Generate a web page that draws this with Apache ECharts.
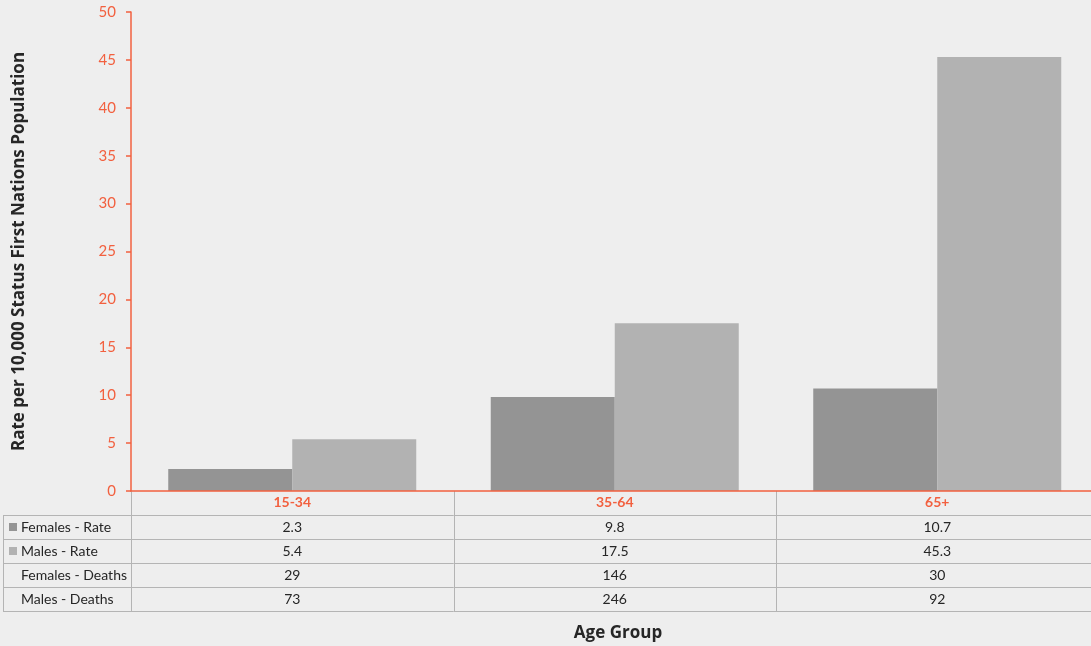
<!DOCTYPE html>
<html>
<head>
<meta charset="utf-8">
<title>Rate per 10,000 Status First Nations Population by Age Group</title>
<script src="https://cdn.jsdelivr.net/npm/echarts@6/dist/echarts.min.js"></script>
<style>
  html, body { margin: 0; padding: 0; background: #eeeeee; }
  #chart { width: 1091px; height: 646px; }
</style>
</head>
<body>
<div id="chart"></div>
<script>
// Age groups and values
const ageGroups = ['15-34', '35-64', '65+'];
const femalesRate = [2.3, 9.8, 10.7];
const malesRate = [5.4, 17.5, 45.3];
const femalesDeaths = [29, 146, 30];
const malesDeaths = [73, 246, 92];
const rowNames = ['Females - Rate', 'Males - Rate', 'Females - Deaths', 'Males - Deaths'];
const yTicks = { min: 0, max: 50, interval: 5 };

const FEMALE = '#949494';
const MALE = '#b2b2b2';
const ACCENT = '#f2603f';
const GRID_LINE = '#b4b4b4';
const FONT = 'Lato, "Open Sans", sans-serif';
const TITLE_FONT = '"Open Sans", Lato, sans-serif';
const LABEL_COL = 128;   // width of the row-name column left of the table
const PLOT_LEFT = 131;
const PLOT_WIDTH = 967.5; // the last column runs a little past the right edge

// table rows: header row (category names) followed by the four data rows
const tableRows = ['header'].concat(rowNames);
const rowValues = [femalesRate, malesRate, femalesDeaths, malesDeaths];
const swatch = [FEMALE, MALE, null, null];

// cells: [categoryIndex, rowIndex]; categoryIndex -1 marks the row-name column
const cells = [];
for (let r = 0; r < tableRows.length; r++) {
  cells.push([-1, r]);
  for (let c = 0; c < ageGroups.length; c++) cells.push([c, r]);
}

function cellText(c, r) {
  if (c === -1) return r === 0 ? '' : rowNames[r - 1];
  if (r === 0) return ageGroups[c];
  return String(rowValues[r - 1][c]);
}

function renderCell(params, api) {
  const c = api.value(0);
  const r = api.value(1);
  const bandW = api.size([1, 0])[0];
  const rowH = api.size([0, 1])[1];
  const pt = api.coord([Math.max(c, 0), r]);
  let x0, x1;
  if (c === -1) {
    x1 = pt[0] - bandW / 2;
    x0 = x1 - LABEL_COL;
  } else {
    x0 = pt[0] - bandW / 2;
    x1 = pt[0] + bandW / 2;
  }
  const y0 = pt[1] - rowH / 2;
  const y1 = pt[1] + rowH / 2;
  const lineStyle = { stroke: GRID_LINE, lineWidth: 1 };
  const children = [];
  const crisp = v => Math.round(v) + 0.5;

  if (c === -1 && r === 0) {
    return { type: 'group', children: [] };
  }
  // right border of each value cell, left borders, top of the row-name column, bottom borders
  if (c !== -1) {
    children.push({ type: 'line', shape: { x1: crisp(x1), y1: y0, x2: crisp(x1), y2: y1 }, style: lineStyle, silent: true });
  }
  if (c === -1 || c === 0) {
    children.push({ type: 'line', shape: { x1: crisp(x0), y1: y0, x2: crisp(x0), y2: y1 }, style: lineStyle, silent: true });
  }
  if (c === -1) {
    children.push({ type: 'line', shape: { x1: crisp(x0), y1: crisp(y0), x2: crisp(x1), y2: crisp(y0) }, style: lineStyle, silent: true });
  }
  children.push({ type: 'line', shape: { x1: x0, y1: crisp(y1), x2: x1, y2: crisp(y1) }, style: lineStyle, silent: true });

  if (c === -1) {
    const sw = swatch[r - 1];
    if (sw) {
      children.push({ type: 'rect', shape: { x: x0 + 6, y: pt[1] - 4, width: 8, height: 8 }, style: { fill: sw }, silent: true });
    }
    children.push({
      type: 'text',
      style: { x: x0 + 18, y: pt[1], text: cellText(c, r), fill: '#262626', font: '14px ' + FONT, verticalAlign: 'middle', align: 'left' },
      silent: true
    });
  } else {
    const header = r === 0;
    children.push({
      type: 'text',
      style: {
        x: pt[0], y: pt[1] - (header ? 1 : 0), text: cellText(c, r),
        fill: header ? ACCENT : '#262626',
        font: (header ? 'bold ' : '') + '14px ' + FONT,
        align: 'center', verticalAlign: 'middle'
      },
      silent: true
    });
  }
  return { type: 'group', children };
}

const chart = echarts.init(document.getElementById('chart'), null, { renderer: 'canvas' });
chart.setOption({
  backgroundColor: '#eeeeee',
  animation: false,
  textStyle: { fontFamily: FONT },
  title: {
    text: 'Age Group',
    left: 613,
    top: 620,
    textAlign: 'center',
    textStyle: { fontSize: 17, fontWeight: 'bold', color: '#262626', fontFamily: TITLE_FONT }
  },
  grid: [
    { left: PLOT_LEFT, width: PLOT_WIDTH, top: 12, height: 479, containLabel: false, outerBoundsMode: 'none' },
    { left: PLOT_LEFT, width: PLOT_WIDTH, top: 491, height: 120, containLabel: false, outerBoundsMode: 'none' }
  ],
  xAxis: [
    {
      gridIndex: 0,
      type: 'category',
      data: ageGroups,
      axisLine: { lineStyle: { color: ACCENT, width: 1.5 } },
      axisTick: { show: false },
      axisLabel: { show: false },
      splitLine: { show: false },
      z: 5
    },
    {
      gridIndex: 1,
      type: 'category',
      data: ageGroups,
      show: false
    }
  ],
  yAxis: [
    {
      gridIndex: 0,
      type: 'value',
      min: yTicks.min,
      max: yTicks.max,
      interval: yTicks.interval,
      name: 'Rate per 10,000 Status First Nations Population',
      nameLocation: 'middle',
      nameGap: 103,
      nameTextStyle: { fontSize: 17, fontWeight: 'bold', color: '#262626', fontFamily: TITLE_FONT },
      axisLine: { show: true, lineStyle: { color: ACCENT, width: 1.5 } },
      axisTick: { show: true, length: 5, lineStyle: { color: ACCENT, width: 1.5 } },
      axisLabel: { color: ACCENT, fontSize: 15, margin: 15, fontFamily: FONT },
      splitLine: { show: false }
    },
    {
      gridIndex: 1,
      type: 'category',
      data: tableRows,
      inverse: true,
      show: false
    }
  ],
  series: [
    {
      name: 'Females - Rate',
      type: 'bar',
      xAxisIndex: 0,
      yAxisIndex: 0,
      data: femalesRate,
      barGap: '0%',
      barCategoryGap: '23.1%',
      itemStyle: { color: FEMALE },
      z: 2
    },
    {
      name: 'Males - Rate',
      type: 'bar',
      xAxisIndex: 0,
      yAxisIndex: 0,
      data: malesRate,
      barGap: '0%',
      barCategoryGap: '23.1%',
      itemStyle: { color: MALE },
      z: 2
    },
    {
      name: 'table',
      type: 'custom',
      xAxisIndex: 1,
      yAxisIndex: 1,
      data: cells,
      renderItem: renderCell,
      clip: false,
      silent: true,
      z: 1
    }
  ]
});
</script>
</body>
</html>
